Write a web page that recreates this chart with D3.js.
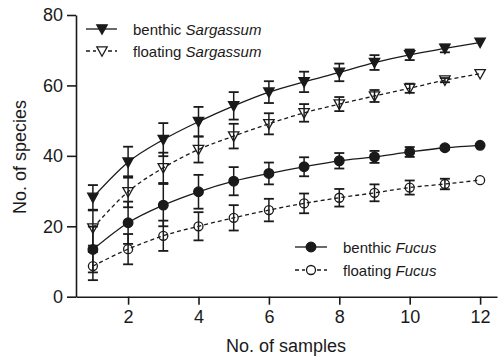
<!DOCTYPE html>
<html>
<head>
<meta charset="utf-8">
<script src="https://cdn.jsdelivr.net/npm/d3@7"></script>
<style>
  html, body { margin: 0; padding: 0; background: #fff; }
  svg { display: block; }
  text { font-family: "Liberation Sans", Arial, sans-serif; fill: #1a1a1a; }
</style>
</head>
<body>
<svg id="chart" width="498" height="361"></svg>
<script>
// ---- data ----
const samples = [1, 2, 3, 4, 5, 6, 7, 8, 9, 10, 11, 12];
const benthicSargassum      = [28.2, 38.2, 44.6, 49.7, 54.2, 58.1, 61.0, 63.7, 66.5, 68.7, 70.5, 72.2];
const benthicSargassumErr   = [3.5, 4.4, 4.7, 4.2, 3.9, 3.1, 2.9, 2.5, 2.1, 1.5, 1.1, 0];
const floatingSargassum     = [19.5, 29.8, 36.6, 41.8, 45.6, 49.1, 52.2, 54.7, 57.0, 59.2, 61.5, 63.3];
const floatingSargassumErr  = [5.0, 4.4, 4.3, 3.7, 3.5, 3.0, 2.5, 2.0, 1.7, 1.3, 0.6, 0];
const benthicFucus          = [13.4, 21.0, 26.0, 29.8, 32.8, 35.0, 36.9, 38.6, 39.7, 41.1, 42.3, 43.0];
const benthicFucusErr       = [6.5, 6.0, 6.0, 4.8, 4.0, 3.1, 2.7, 2.2, 1.7, 1.4, 0.5, 0];
const floatingFucus         = [8.7, 13.5, 17.3, 20.0, 22.4, 24.6, 26.5, 28.1, 29.5, 31.0, 32.0, 33.1];
const floatingFucusErr      = [4.0, 4.3, 4.3, 4.0, 3.6, 3.2, 2.8, 2.5, 2.4, 2.0, 1.5, 0];
const xTicks = [2, 4, 6, 8, 10, 12];
const yTicks = [0, 20, 40, 60, 80];
const seriesNames = ["benthic", "floating", "benthic", "floating"];
const genusNames  = ["Sargassum", "Sargassum", "Fucus", "Fucus"];

// ---- setup ----
const svg = d3.select("#chart");
const ink = "#1a1a1a";
const x = d3.scaleLinear().domain([0.52, 12.48]).range([76, 497]);
const y = d3.scaleLinear().domain([0, 80]).range([296.7, 15]);

const series = [
  { vals: benthicSargassum,  err: benthicSargassumErr,  marker: "tri",    filled: true,  dash: null },
  { vals: floatingSargassum, err: floatingSargassumErr, marker: "tri",    filled: false, dash: "4,3" },
  { vals: benthicFucus,      err: benthicFucusErr,      marker: "circle", filled: true,  dash: null },
  { vals: floatingFucus,     err: floatingFucusErr,     marker: "circle", filled: false, dash: "4,3" }
];

// ---- axes ----
const xAxis = d3.axisBottom(x).tickValues(xTicks).tickSize(8).tickSizeOuter(0).tickPadding(6);
const yAxis = d3.axisLeft(y).tickValues(yTicks).tickSize(9).tickSizeOuter(0).tickPadding(4);

const gx = svg.append("g").attr("transform", `translate(0,${y(0)})`).call(xAxis);
const gy = svg.append("g").attr("transform", `translate(${x.range()[0]},0)`).call(yAxis);
[gx, gy].forEach(g => {
  g.select(".domain").attr("stroke", ink).attr("stroke-width", 1.6);
  g.selectAll(".tick line").attr("stroke", ink).attr("stroke-width", 1.6);
  g.selectAll(".tick text").attr("fill", ink).style("font-size", "18px")
    .style("font-family", '"Liberation Sans", Arial, sans-serif');
});

svg.append("text").attr("x", 286).attr("y", 352).attr("text-anchor", "middle")
  .style("font-size", "18px").text("No. of samples");
svg.append("text").attr("transform", "translate(26,157) rotate(-90)").attr("text-anchor", "middle")
  .style("font-size", "18px").text("No. of species");

// ---- marker drawing ----
function drawMarker(g, type, filled, cx, cy) {
  if (type === "tri") {
    g.append("path")
      .attr("d", d3.line()([[cx - 5.2, cy - 4.2], [cx + 5.2, cy - 4.2], [cx, cy + 5.2]]) + "Z")
      .attr("fill", filled ? ink : "none").attr("stroke", ink).attr("stroke-width", 1.3);
  } else {
    g.append("circle").attr("cx", cx).attr("cy", cy).attr("r", filled ? 4.8 : 4.5)
      .attr("fill", filled ? ink : "none").attr("stroke", ink).attr("stroke-width", 1.3);
  }
}

// ---- series ----
const plot = svg.append("g");
const line = d3.line().x((d, i) => x(samples[i])).y(d => y(d)).curve(d3.curveMonotoneX);

series.forEach(s => {
  const g = plot.append("g");
  // error bars
  s.vals.forEach((v, i) => {
    const e = s.err[i];
    if (e <= 0) return;
    const cx = x(samples[i]);
    g.append("line").attr("x1", cx).attr("x2", cx).attr("y1", y(v - e)).attr("y2", y(v + e))
      .attr("stroke", ink).attr("stroke-width", 1.5);
    [v - e, v + e].forEach(t => {
      g.append("line").attr("x1", cx - 5).attr("x2", cx + 5).attr("y1", y(t)).attr("y2", y(t))
        .attr("stroke", ink).attr("stroke-width", 1.8);
    });
  });
  // line
  g.append("path").attr("d", line(s.vals)).attr("fill", "none").attr("stroke", ink)
    .attr("stroke-width", 1.3).attr("stroke-dasharray", s.dash);
  // markers
  s.vals.forEach((v, i) => drawMarker(g, s.marker, s.filled, x(samples[i]), y(v)));
});

// ---- legends ----
const legendPos = [
  { lx1: 86, lx2: 117, mx: 102, y: 29, tx: 133 },
  { lx1: 86, lx2: 117, mx: 102, y: 51, tx: 133 },
  { lx1: 295, lx2: 327, mx: 311, y: 247, tx: 343 },
  { lx1: 295, lx2: 327, mx: 311, y: 270, tx: 343 }
];
series.forEach((s, k) => {
  const p = legendPos[k];
  const g = svg.append("g");
  if (s.dash) {
    g.append("line").attr("x1", p.lx1).attr("x2", p.mx - 6).attr("y1", p.y).attr("y2", p.y)
      .attr("stroke", ink).attr("stroke-width", 1.3).attr("stroke-dasharray", "4,3");
    g.append("line").attr("x1", p.mx + 6).attr("x2", p.lx2).attr("y1", p.y).attr("y2", p.y)
      .attr("stroke", ink).attr("stroke-width", 1.3).attr("stroke-dasharray", "4,3");
  } else {
    g.append("line").attr("x1", p.lx1).attr("x2", p.lx2).attr("y1", p.y).attr("y2", p.y)
      .attr("stroke", ink).attr("stroke-width", 1.3);
  }
  drawMarker(g, s.marker, s.filled, p.mx, p.y);
  const t = g.append("text").attr("x", p.tx).attr("y", p.y + 5.5).style("font-size", "15px");
  t.append("tspan").text(seriesNames[k] + " ");
  t.append("tspan").style("font-style", "italic").text(genusNames[k]);
});
</script>
</body>
</html>
